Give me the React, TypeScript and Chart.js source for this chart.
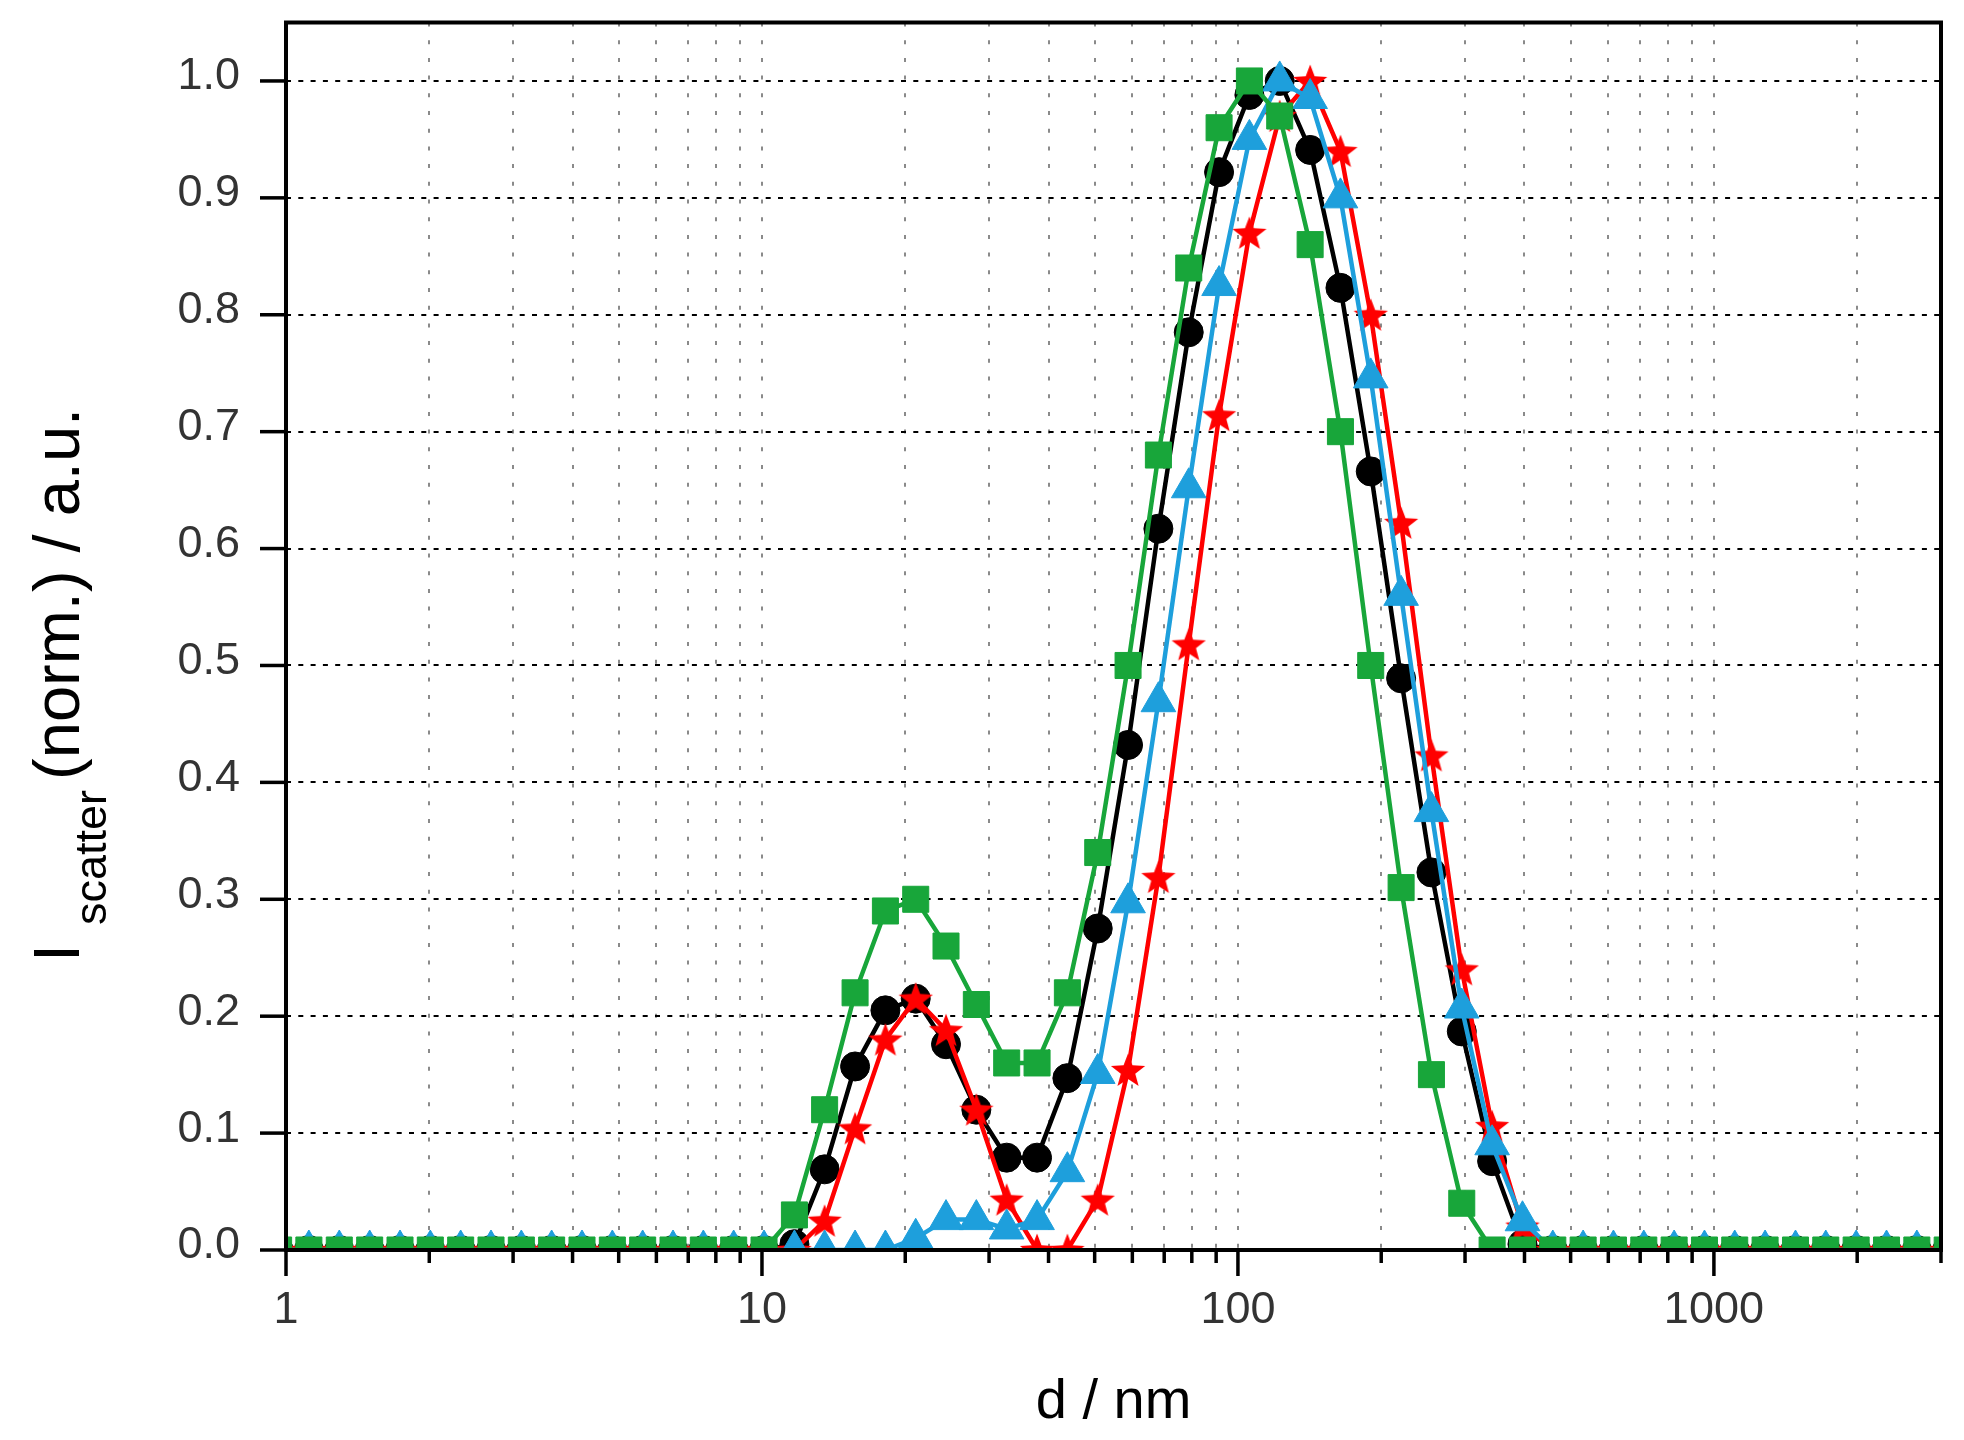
import { useEffect, useRef } from 'react';
import { Chart, registerables } from 'chart.js';

Chart.register(...registerables);

// Size classes (nm) of the distribution (x values of all markers)
const sizes = [
  0.9649, 1.117, 1.294, 1.499, 1.736, 2.01, 2.328, 2.696, 3.122, 3.615, 4.187, 4.849, 5.615, 6.503, 7.531, 8.721,
  10.1, 11.7, 13.54, 15.69, 18.17, 21.04, 24.36, 28.21, 32.67, 37.84, 43.82, 50.75, 58.77, 68.06, 78.82, 91.28,
  105.7, 122.4, 141.8, 164.2, 190.1, 220.2, 255.0, 295.3, 342.0, 396.1, 458.7, 531.2, 615.1, 712.4, 825.0, 955.4,
  1106, 1281, 1484, 1718, 1990, 2305, 2669, 3091,
];

// Black circles
const seriesBlack = [
  0, 0, 0, 0, 0, 0, 0, 0, 0, 0, 0, 0, 0, 0, 0, 0,
  0, 0.005, 0.069, 0.157, 0.205, 0.215, 0.176, 0.12, 0.079, 0.079, 0.147, 0.275, 0.432, 0.617, 0.785, 0.922,
  0.988, 1.0, 0.941, 0.823, 0.666, 0.489, 0.323, 0.187, 0.076, 0.005, 0, 0, 0, 0, 0, 0,
  0, 0, 0, 0, 0, 0, 0, 0,
];

// Red stars
const seriesRed = [
  0, 0, 0, 0, 0, 0, 0, 0, 0, 0, 0, 0, 0, 0, 0, 0,
  0, 0, 0.025, 0.104, 0.18, 0.215, 0.188, 0.12, 0.043, 0, 0, 0.043, 0.154, 0.319, 0.518, 0.714,
  0.87, 0.97, 1.0, 0.94, 0.8, 0.622, 0.423, 0.24, 0.106, 0.02, 0, 0, 0, 0, 0, 0,
  0, 0, 0, 0, 0, 0, 0, 0,
];

// Blue triangles
const seriesBlue = [
  0, 0, 0, 0, 0, 0, 0, 0, 0, 0, 0, 0, 0, 0, 0, 0,
  0, 0, 0, 0, 0, 0.01, 0.026, 0.026, 0.018, 0.026, 0.067, 0.151, 0.297, 0.469, 0.652, 0.825,
  0.95, 1.0, 0.985, 0.9, 0.746, 0.56, 0.375, 0.207, 0.09, 0.025, 0, 0, 0, 0, 0, 0,
  0, 0, 0, 0, 0, 0, 0, 0,
];

// Green squares
const seriesGreen = [
  0, 0, 0, 0, 0, 0, 0, 0, 0, 0, 0, 0, 0, 0, 0, 0,
  0, 0.03, 0.12, 0.22, 0.29, 0.3, 0.26, 0.21, 0.16, 0.16, 0.22, 0.34, 0.5, 0.68, 0.84, 0.96,
  1.0, 0.97, 0.86, 0.7, 0.5, 0.31, 0.15, 0.04, 0, 0, 0, 0, 0, 0, 0, 0,
  0, 0, 0, 0, 0, 0, 0, 0,
];

// Axis ticks
const xTickValues = [
  1, 2, 3, 4, 5, 6, 7, 8, 9,
  10, 20, 30, 40, 50, 60, 70, 80, 90,
  100, 200, 300, 400, 500, 600, 700, 800, 900,
  1000, 2000, 3000,
];
const xLabelValues = [1, 10, 100, 1000];
const yTickValues = [0, 0.1, 0.2, 0.3, 0.4, 0.5, 0.6, 0.7, 0.8, 0.9, 1.0];

const BLACK = '#000000';
const RED = '#ff0000';
const BLUE = '#1e9fdc';
const GREEN = '#18a63a';
const FONT = '"Liberation Sans", Arial, Helvetica, sans-serif';

function makeStar(outer: number, inner: number, color: string): HTMLCanvasElement {
  const c = document.createElement('canvas');
  const s = Math.ceil(outer * 2 + 2);
  c.width = s;
  c.height = s;
  const g = c.getContext('2d')!;
  g.fillStyle = color;
  g.beginPath();
  for (let i = 0; i < 10; i++) {
    const r = i % 2 === 0 ? outer : inner;
    const a = -Math.PI / 2 + (i * Math.PI) / 5;
    const px = s / 2 + r * Math.cos(a);
    const py = s / 2 + 1.5 + r * Math.sin(a);
    if (i === 0) g.moveTo(px, py);
    else g.lineTo(px, py);
  }
  g.closePath();
  g.fill();
  return c;
}

const framePlugin = {
  id: 'frameTicks',
  afterDatasetsDraw(chart: any) {
    const { ctx, chartArea } = chart;
    const { left, right, top, bottom } = chartArea;
    const xs = chart.scales.x;
    const ys = chart.scales.y;
    ctx.save();
    ctx.strokeStyle = '#000';
    ctx.lineCap = 'butt';
    ctx.lineWidth = 3.5;
    for (const t of xs.ticks) {
      const px = xs.getPixelForValue(t.value);
      const major = xLabelValues.includes(t.value);
      ctx.beginPath();
      ctx.moveTo(px, bottom);
      ctx.lineTo(px, bottom + (major ? 26 : 13));
      ctx.stroke();
    }
    for (const t of ys.ticks) {
      const py = ys.getPixelForValue(t.value);
      ctx.beginPath();
      ctx.moveTo(left, py);
      ctx.lineTo(left - 26, py);
      ctx.stroke();
    }
    ctx.lineWidth = 4;
    ctx.strokeRect(left, top, right - left, bottom - top);
    ctx.restore();
  },
};

const yTitlePlugin = {
  id: 'yTitle',
  afterDraw(chart: any) {
    const ctx = chart.ctx;
    ctx.save();
    ctx.translate(79, 962);
    ctx.rotate(-Math.PI / 2);
    ctx.fillStyle = '#000';
    ctx.textAlign = 'left';
    ctx.textBaseline = 'alphabetic';
    ctx.font = `65px ${FONT}`;
    ctx.fillText('I', 0, 0);
    let x = ctx.measureText('I').width + 19;
    ctx.font = `45px ${FONT}`;
    ctx.fillText('scatter', x, 27);
    x += ctx.measureText('scatter').width + 10;
    ctx.font = `65px ${FONT}`;
    ctx.fillText('(norm.) / a.u.', x, 0);
    ctx.restore();
  },
};

export default function App() {
  const ref = useRef<HTMLCanvasElement>(null);

  useEffect(() => {
    const canvas = ref.current;
    if (!canvas) return;
    const star = makeStar(18, 7.6, RED);
    const toPts = (vals: number[]) => sizes.map((d, i) => ({ x: d, y: vals[i] }));

    const chart = new Chart(canvas, {
      type: 'line',
      data: {
        datasets: [
          {
            label: 'black',
            data: toPts(seriesBlack),
            borderColor: BLACK,
            backgroundColor: BLACK,
            borderWidth: 4.5,
            pointStyle: 'circle',
            pointRadius: 14.5,
            pointBackgroundColor: BLACK,
            pointBorderColor: BLACK,
            pointBorderWidth: 1,
            tension: 0,
            clip: 0,
            order: 3,
          } as any,
          {
            label: 'red',
            data: toPts(seriesRed),
            borderColor: RED,
            backgroundColor: RED,
            borderWidth: 4.5,
            pointStyle: star,
            pointRadius: 18,
            tension: 0,
            clip: 0,
            order: 2,
          } as any,
          {
            label: 'blue',
            data: toPts(seriesBlue),
            borderColor: BLUE,
            backgroundColor: BLUE,
            borderWidth: 4.5,
            pointStyle: 'triangle',
            pointRadius: 20,
            pointBackgroundColor: BLUE,
            pointBorderColor: BLUE,
            pointBorderWidth: 1,
            tension: 0,
            clip: 0,
            order: 1,
          } as any,
          {
            label: 'green',
            data: toPts(seriesGreen),
            borderColor: GREEN,
            backgroundColor: GREEN,
            borderWidth: 4.5,
            pointStyle: 'rect',
            pointRadius: 18.4,
            pointBackgroundColor: GREEN,
            pointBorderColor: GREEN,
            pointBorderWidth: 1,
            tension: 0,
            clip: 0,
            order: 0,
          } as any,
        ],
      },
      options: {
        responsive: false,
        animation: false,
        devicePixelRatio: 1,
        events: [],
        layout: { padding: { top: 17, right: 23, left: 0, bottom: 0 } },
        plugins: {
          legend: { display: false },
          tooltip: { enabled: false },
        },
        scales: {
          x: {
            type: 'logarithmic',
            min: 1,
            max: 3000,
            afterBuildTicks: (scale: any) => {
              scale.ticks = xTickValues.map((v) => ({ value: v }));
            },
            afterFit: (scale: any) => {
              scale.height = 190;
              scale.paddingLeft = 0;
              scale.paddingRight = 0;
            },
            grid: {
              color: '#8a8a8a',
              lineWidth: 2,
              drawTicks: false,
            },
            border: { display: false, dash: [4, 13.7] },
            ticks: {
              autoSkip: false,
              maxRotation: 0,
              minRotation: 0,
              padding: 34,
              color: '#333333',
              font: { family: FONT, size: 45 },
              callback: (v: any) => (xLabelValues.includes(Number(v)) ? String(v) : ''),
            },
            title: {
              display: true,
              text: 'd / nm',
              color: '#000',
              font: { family: FONT, size: 56 },
              padding: { top: 0, bottom: 4 },
            },
          } as any,
          y: {
            type: 'linear',
            min: 0,
            max: 1.05,
            afterBuildTicks: (scale: any) => {
              scale.ticks = yTickValues.map((v) => ({ value: v }));
            },
            afterFit: (scale: any) => {
              scale.width = 286;
              scale.paddingTop = 0;
              scale.paddingBottom = 0;
            },
            grid: {
              color: '#000000',
              lineWidth: 2,
              drawTicks: false,
            },
            border: { display: false, dash: [5, 7.3] },
            ticks: {
              padding: 46,
              labelOffset: -4,
              color: '#333333',
              font: { family: FONT, size: 45 },
              callback: (v: any) => Number(v).toFixed(1),
            },
          } as any,
        },
      },
      plugins: [framePlugin, yTitlePlugin],
    });

    return () => chart.destroy();
  }, []);

  return (
    <div style={{ position: 'fixed', left: 0, top: 0, width: 1964, height: 1440, background: '#ffffff' }}>
      <canvas ref={ref} width={1964} height={1440} style={{ display: 'block', width: 1964, height: 1440 }} />
    </div>
  );
}
